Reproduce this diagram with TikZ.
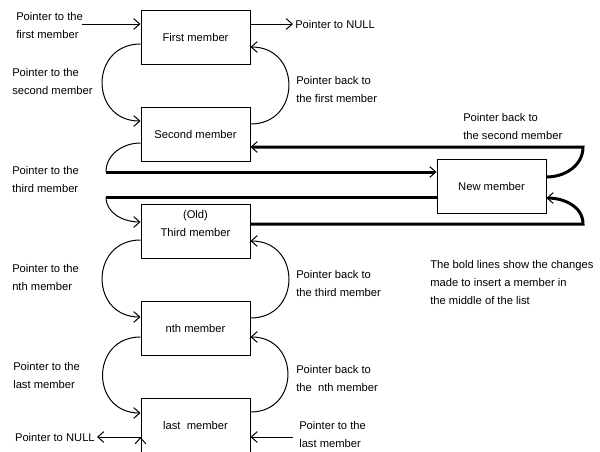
\documentclass[tikz,border=0pt]{standalone}
\usepackage{fontspec}
\setmainfont{Liberation Sans}
\usetikzlibrary{arrows.meta,positioning,calc}

\begin{document}
\begin{tikzpicture}[x=0.75pt,y=-0.75pt,
            font=\fontsize{8.4}{13.5}\selectfont,
            member/.style={draw,rectangle,line width=0.75pt,minimum width=81.75pt,minimum height=40.5pt,node distance=72.75pt,align=center},
            lab/.style={align=left,inner sep=0pt,anchor=west},
            link/.style={draw,->,line width=0.75pt,>={Straight Barb[length=4.5pt,width=8pt,line width=0.75pt]}},
            bold/.style={link,line width=2.25pt},
            loopleft/.style={out=180,in=180,looseness=1.7},
            loopright/.style={out=0,in=0,looseness=1.7}
          ]
          \useasboundingbox (0,0) rectangle (600,451);
          \clip (0,0) rectangle (600,451);

          %list members
          \node[member] (first) at (195.5,37) {First member};
          \node[below of = first,member] (second) {Second member};
          \node[below of = second,member,text depth=12pt] (third) {(Old)\\Third member};
          \node[below of = third,member] (nth) {nth member};
          \node[below of = nth,member] (last) {last~\ member};
          \node[member] (new) at (491.5,186) {New member};

          %free ends
          \coordinate (inFirst) at (82,24);
          \coordinate (nullTop) at (293,24);
          \coordinate (nullEnd) at (97,437);
          \coordinate (inLast) at (293,437);
          \coordinate (splitA) at (106,172);
          \coordinate (splitB) at (106,197);
          \coordinate (backA) at (583,147);
          \coordinate (backB) at (583,224);

          %links
          \path[link]
          (inFirst) edge (inFirst -| first.west)
          (nullTop -| first.east) edge (nullTop)
          ($(first.west)+(0,7)$) edge[loopleft] ($(second.west)+(0,-13)$)
          ($(second.east)+(0,-10)$) edge[loopright] ($(first.east)+(0,10)$)
          ($(third.west)+(0,9)$) edge[loopleft] ($(nth.west)+(0,-11)$)
          ($(nth.east)+(0,-10)$) edge[loopright] ($(third.east)+(0,10)$)
          ($(nth.west)+(0,9)$) edge[loopleft] ($(last.west)+(0,-12)$)
          ($(last.east)+(0,-13)$) edge[loopright] ($(nth.east)+(0,9)$)
          (nullEnd -| last.west) edge (nullEnd)
          ;
          \draw[link] (inLast) -- (inLast -| last.east);

          %inserted member
          \draw[line width=0.75pt] ($(second.west)+(0,9)$) to[out=180,in=90] (splitA);
          \draw[bold] (splitA) -- (splitA -| new.west);
          \draw[line width=2.25pt] (splitB -| new.west) -- (splitB);
          \draw[link] (splitB) to[out=-90,in=180] ($(third.west)+(0,-9)$);
          \draw[bold] (third.east |- backB) -- (backB) to[out=90,in=0] ($(new.east)+(0,12)$);
          \draw[bold] ($(new.east)+(0,-9)$) to[out=0,in=-90] (backA) -- (backA -| second.east);

          %labels
          \node[lab] (labInFirst) at (16,25) {Pointer to the\\first member};
          \node[lab] (labNullTop) at (295,24) {Pointer to NULL};
          \node[lab] (labToSecond) at (12,81) {Pointer to the\\second member};
          \node[lab] (labBackFirst) at (296,89) {Pointer back to\\the first member};
          \node[lab] (labBackSecond) at (463,126) {Pointer back to\\the second member};
          \node[lab] (labToThird) at (12,179) {Pointer to the\\third member};
          \node[lab] (labToNth) at (12,277) {Pointer to the\\nth member};
          \node[lab] (labBackThird) at (296,283) {Pointer back to\\the third member};
          \node[lab] (labNote) at (430,282) {The bold lines show the changes\\made to insert a member in\\the middle of the list};
          \node[lab] (labToLast) at (13,375) {Pointer to the\\last member};
          \node[lab] (labBackNth) at (296,378) {Pointer back to\\the~\ nth member};
          \node[lab] (labInLast) at (299,434) {Pointer to the\\last member};
          \node[lab,anchor=east] (labNullEnd) at (95,437) {Pointer to NULL};

      \end{tikzpicture}
\end{document}
